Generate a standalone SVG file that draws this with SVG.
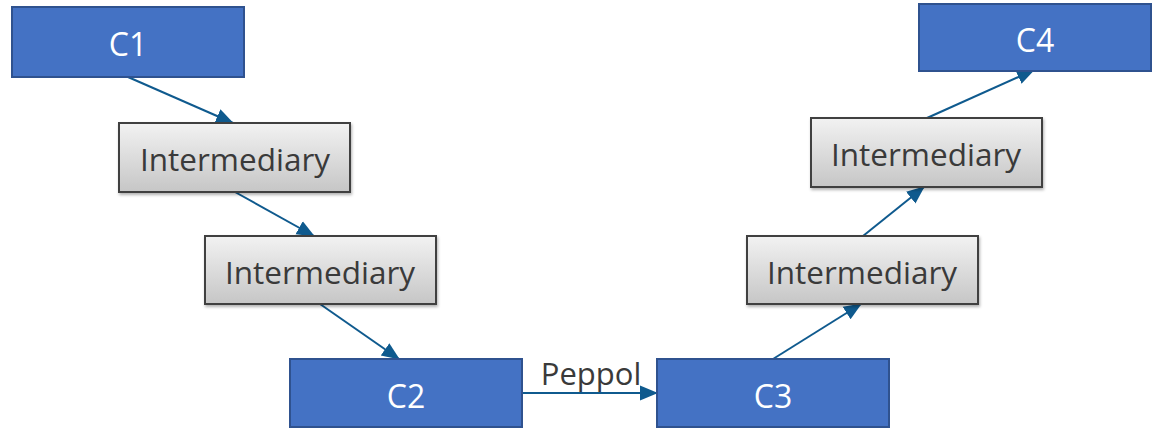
<svg xmlns="http://www.w3.org/2000/svg" width="1155" height="430" viewBox="0 0 1155 430">
<style>
.blue{fill:#4472C4;stroke:#2F528F;stroke-width:2}
.grey{fill:url(#g);stroke:#404040;stroke-width:2;filter:url(#sh)}
.wt{font-family:"Open Sans",sans-serif;font-size:32px;fill:#ffffff;text-anchor:middle;dominant-baseline:central}
.gt{font-family:"Open Sans",sans-serif;font-size:31.5px;fill:#3A3A3A;text-anchor:middle;dominant-baseline:central}
.c{stroke:#0F5A8E;stroke-width:2;fill:none;marker-end:url(#a)}
</style>
<defs>
<linearGradient id="g" x1="0" y1="0" x2="0" y2="1">
<stop offset="0" stop-color="#F2F2F2"/>
<stop offset="1" stop-color="#C6C6C6"/>
</linearGradient>
<filter id="sh" x="-10%" y="-10%" width="120%" height="130%">
<feDropShadow dx="1" dy="2" stdDeviation="1.5" flood-color="#000" flood-opacity="0.3"/>
</filter>
<marker id="a" markerUnits="userSpaceOnUse" markerWidth="18" markerHeight="18" viewBox="0 0 18 18" refX="17" refY="9" orient="auto">
<path d="M0,1.5 L18,9 L0,16.5 Z" fill="#0F5A8E"/>
</marker>
</defs>
<g id="connectors">
<line class="c" x1="128" y1="77" x2="233" y2="123"/>
<line class="c" x1="235" y1="192" x2="314" y2="236"/>
<line class="c" x1="320" y1="304" x2="399" y2="359"/>
<line class="c" x1="522" y1="393" x2="657" y2="393"/>
<line class="c" x1="773" y1="359" x2="861" y2="304"/>
<line class="c" x1="863" y1="236" x2="924" y2="187"/>
<line class="c" x1="927" y1="118" x2="1034" y2="70"/>
<text x="591" y="373" class="gt" style="font-size:31px">Peppol</text>
</g>
<g id="c1"><rect class="blue" x="12" y="7" width="232" height="70"/><text class="wt" x="128" y="43">C1</text></g>
<g id="int1"><rect class="grey" x="119" y="123" width="231" height="69"/><text class="gt" x="235" y="158">Intermediary</text></g>
<g id="int2"><rect class="grey" x="205" y="236" width="231" height="68"/><text class="gt" x="320" y="271">Intermediary</text></g>
<g id="c2"><rect class="blue" x="290" y="359" width="232" height="68"/><text class="wt" x="406" y="395">C2</text></g>
<g id="c3"><rect class="blue" x="657" y="359" width="232" height="68"/><text class="wt" x="773" y="395">C3</text></g>
<g id="int3"><rect class="grey" x="747" y="236" width="231" height="68"/><text class="gt" x="862" y="271">Intermediary</text></g>
<g id="int4"><rect class="grey" x="811" y="118" width="231" height="69"/><text class="gt" x="926" y="153">Intermediary</text></g>
<g id="c4"><rect class="blue" x="919" y="4" width="232" height="67"/><text class="wt" x="1035" y="39">C4</text></g>
</svg>
